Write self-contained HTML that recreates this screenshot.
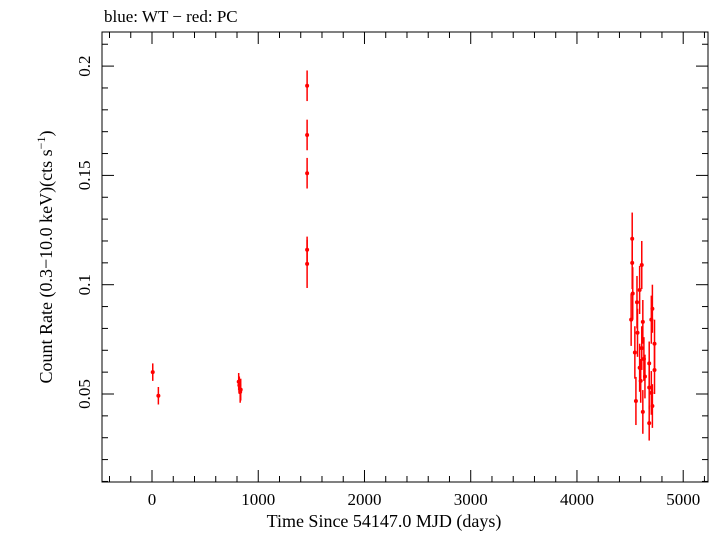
<!DOCTYPE html>
<html><head><meta charset="utf-8"><style>
body{margin:0;background:#fff;}
text{font-family:"Liberation Serif",serif;fill:#000;}
</style></head><body>
<svg id="chart" width="714" height="532" xmlns="http://www.w3.org/2000/svg">
<text x="104" y="22" font-size="17">blue: WT − red: PC</text>
<rect x="102" y="32" width="606" height="450" fill="none" stroke="#000" stroke-width="1"/>
<g id="axes"></g>
<g id="marks"></g>
<text x="384" y="527" font-size="18" text-anchor="middle">Time Since 54147.0 MJD (days)</text>
<text transform="translate(52,257) rotate(-90)" font-size="18" text-anchor="middle">Count Rate (0.3−10.0 keV)(cts s<tspan dy="-7" font-size="12">−1</tspan><tspan dy="7">)</tspan></text>
</svg>
<script>
const xTicks=[0,1000,2000,3000,4000,5000];
const yTicks=[0.05,0.1,0.15,0.2];
const yTickLabels=["0.05","0.1","0.15","0.2"];
const times=[7,60,816,822,830,835,1460,1460,1460,1460,1460,
4520,4520,4610,4590,4525,4710,4510,4620,4700,4730,4545,4590,4680,4730,4555,4620,4680,4710,4700,4565,4570,4610,4630,4640,4680,4600];
const rates=[0.060,0.0492,0.0556,0.054,0.051,0.052,0.191,0.1685,0.151,0.116,0.1095,
0.121,0.110,0.109,0.0976,0.096,0.089,0.084,0.083,0.084,0.073,0.069,0.062,0.064,0.061,0.0468,0.0418,0.0367,0.0445,0.0505,0.092,0.078,0.071,0.066,0.058,0.053,0.056];
const errs=[0.004,0.004,0.004,0.004,0.005,0.005,0.007,0.007,0.007,0.006,0.011,
0.012,0.012,0.011,0.011,0.012,0.011,0.012,0.010,0.011,0.011,0.012,0.011,0.010,0.011,0.011,0.010,0.008,0.010,0.010,0.012,0.011,0.010,0.010,0.010,0.010,0.010];
const X=v=>152+v*0.10624;
const Y=v=>394-(v-0.05)*2186;
const ns="http://www.w3.org/2000/svg";
const axes=document.getElementById('axes'),marks=document.getElementById('marks');
function ln(p,x1,y1,x2,y2,c,w,name){const l=document.createElementNS(ns,'line');l.setAttribute('x1',x1);l.setAttribute('y1',y1);l.setAttribute('x2',x2);l.setAttribute('y2',y2);l.setAttribute('stroke',c);l.setAttribute('stroke-width',w);


p.appendChild(l);}
for(let v=-400;v<=5200;v+=200){const x=X(v);const big=v%1000===0;const L=big?12:6;ln(axes,x,482,x,482-L,'#000',1,'x-tick');ln(axes,x,32,x,32+L,'#000',1,'x-tick');}
xTicks.forEach(v=>{const t=document.createElementNS(ns,'text');t.setAttribute('x',X(v));t.setAttribute('y',505);t.setAttribute('font-size','17');t.setAttribute('text-anchor','middle');t.textContent=v;


axes.appendChild(t);});
for(let i=1;i<=21;i++){const v=i/100;const y=Y(v);if(y<32||y>482)continue;const big=i%5===0;const L=big?12:6;ln(axes,102,y,102+L,y,'#000',1,'y-tick');ln(axes,708,y,708-L,y,'#000',1,'y-tick');}
yTicks.forEach((v,i)=>{const t=document.createElementNS(ns,'text');t.setAttribute('transform',`translate(90,${Y(v)}) rotate(-90)`);t.setAttribute('font-size','17');t.setAttribute('text-anchor','middle');t.textContent=yTickLabels[i];


axes.appendChild(t);});
times.forEach((t,i)=>{const x=X(t),y=Y(rates[i]);
ln(marks,x,Y(rates[i]-errs[i]),x,Y(rates[i]+errs[i]),'#f00',1.5,'error-bar');
const c=document.createElementNS(ns,'circle');c.setAttribute('cx',x);c.setAttribute('cy',y);c.setAttribute('r',2);c.setAttribute('fill','#f00');


marks.appendChild(c);});
</script>
</body></html>
